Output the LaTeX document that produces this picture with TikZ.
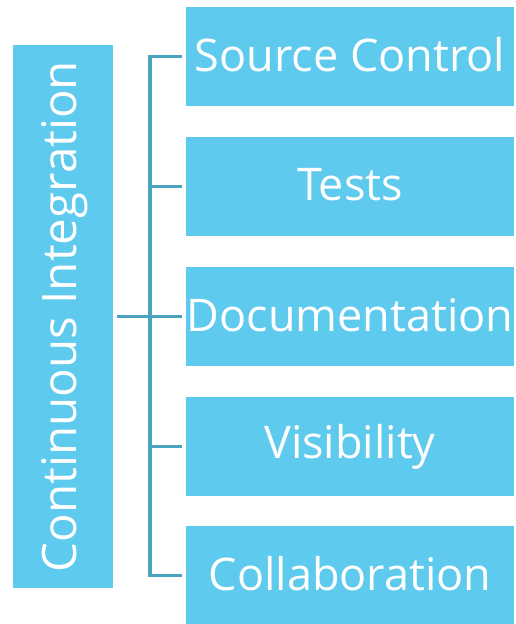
\documentclass[tikz,border=0pt]{standalone}
\usepackage{fontspec}
\setmainfont{Open Sans}
\definecolor{boxblue}{HTML}{5DCAEE}
\definecolor{linkblue}{HTML}{4AA3BE}
\newcommand{\itemtext}[1]{\raisebox{4pt}{#1}}
\begin{document}
\begin{tikzpicture}[x=1pt,y=-1pt,
  itembox/.style={fill=boxblue,draw=none,minimum width=328pt,minimum height=99pt,inner sep=0pt,
    text=white,font=\fontsize{45}{48}\selectfont},
  mainbox/.style={fill=boxblue,draw=none,minimum width=100pt,minimum height=543pt,inner sep=0pt},
  link/.style={draw=linkblue,line width=3.5pt}]
\useasboundingbox (0,0) rectangle (515,624);
\node[mainbox] (ci) at (63,316.5) {};
\node[rotate=90,text=white,font=\fontsize{47.5}{50}\selectfont] (cit) at (65,316.5) {Continuous Integration};
\node[itembox] (b1) at (350,56.5) {\itemtext{Source Control}};
\node[itembox] (b2) at (350,186.5) {\itemtext{Tests}};
\node[itembox] (b3) at (350,316.5) {\itemtext{Documentation}};
\node[itembox] (b4) at (350,446.5) {\itemtext{Visibility}};
\node[itembox] (b5) at (350,575.5) {\itemtext{Collaboration}};
\coordinate (top) at (150,56.5);
\coordinate (bot) at (150,575.5);
\draw[link] ([xshift=-4pt]b1.west) -- (top) -- (bot) -- ([xshift=-4pt]b5.west);
\draw[link] ([xshift=-4pt]b2.west) -- (150,186.5);
\draw[link] ([xshift=-4pt]b4.west) -- (150,446.5);
\draw[link] (ci.east) ++(4pt,0) -- ([xshift=-4pt]b3.west);
\end{tikzpicture}
\end{document}
